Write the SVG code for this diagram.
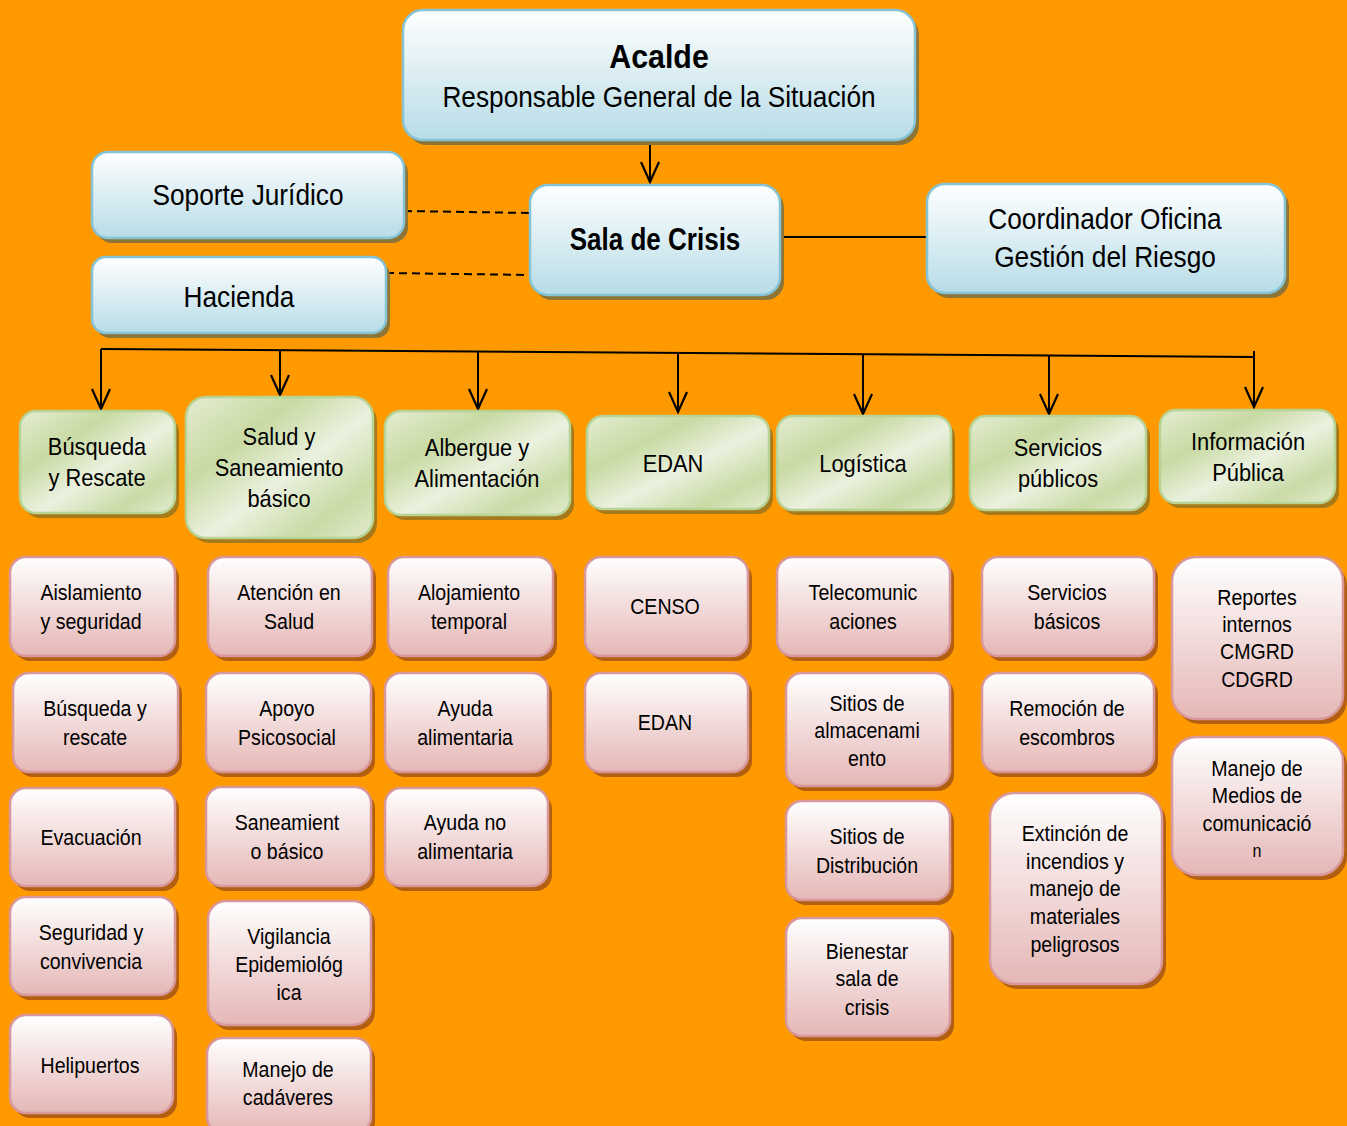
<svg xmlns="http://www.w3.org/2000/svg" width="1347" height="1126" viewBox="0 0 1347 1126">
<defs>
<linearGradient id="gb" x1="0" y1="0" x2="0" y2="1"><stop offset="0" stop-color="#FFFFFF"/><stop offset="1" stop-color="#B7DCE7"/></linearGradient>
<linearGradient id="gg" x1="0" y1="0" x2="1" y2="1"><stop offset="0" stop-color="#E4EDD2"/><stop offset="0.3" stop-color="#C8DAA3"/><stop offset="0.55" stop-color="#EBF1DF"/><stop offset="0.8" stop-color="#C9DBA6"/><stop offset="1" stop-color="#E2EBCF"/></linearGradient>
<linearGradient id="gp" x1="0" y1="0" x2="0" y2="1"><stop offset="0" stop-color="#FFFFFF"/><stop offset="1" stop-color="#E5B7B6"/></linearGradient>
<marker id="ah" markerWidth="24" markerHeight="20" refX="22" refY="10" orient="auto" markerUnits="userSpaceOnUse" viewBox="0 0 24 20">
<polyline points="2,1 22,10 2,19" fill="none" stroke="#000" stroke-width="2.2"/>
</marker>
</defs>
<style>
.b{fill:url(#gb);stroke:#86C3D5;stroke-width:2.5}
.bs{fill:#8D7538}
.g{fill:url(#gg);stroke:#B9D395;stroke-width:2.5}
.gs{fill:#A67A1B}
.p{fill:url(#gp);stroke:#D8989A;stroke-width:2.5}
.ps{fill:#B25F12}
text{font-family:"Liberation Sans","Arial",sans-serif;fill:#000;text-anchor:middle}
.t1{font-size:30px}
.tb{font-size:31px;font-weight:bold}
.tg{font-size:24px}
.tp{font-size:22px}
.c{fill:none;stroke:#000;stroke-width:2}
</style>
<rect width="1347" height="1126" fill="#FF9900"/>

<g id="connectors">
<line class="c" x1="650" y1="140" x2="650" y2="182" marker-end="url(#ah)"/>
<line class="c" x1="404" y1="211" x2="530" y2="213" stroke-dasharray="8,5"/>
<line class="c" x1="386" y1="273" x2="530" y2="275" stroke-dasharray="8,5"/>
<line class="c" x1="780" y1="237" x2="927" y2="237"/>
<line class="c" x1="101" y1="349" x2="1254" y2="357"/>
<line class="c" x1="101" y1="349" x2="101" y2="409" marker-end="url(#ah)"/>
<line class="c" x1="280" y1="350" x2="280" y2="395" marker-end="url(#ah)"/>
<line class="c" x1="478" y1="351" x2="478" y2="409" marker-end="url(#ah)"/>
<line class="c" x1="678" y1="352" x2="678" y2="412" marker-end="url(#ah)"/>
<line class="c" x1="863" y1="354" x2="863" y2="414" marker-end="url(#ah)"/>
<line class="c" x1="1049" y1="356" x2="1049" y2="414" marker-end="url(#ah)"/>
<line class="c" x1="1254" y1="351" x2="1254" y2="407" marker-end="url(#ah)"/>
</g>

<g id="n-acalde"><rect class="bs" x="407" y="15" width="512" height="130" rx="20"/><rect class="b" x="403" y="10" width="512" height="130" rx="20"/><g transform="translate(659,0) scale(0.92,1)"><text class="tb" x="0" y="68" style="font-size:33px">Acalde</text></g><g transform="translate(659,0) scale(0.875,1)"><text class="t1" x="0" y="107">Responsable General de la Situación</text></g></g>
<g id="n-soporte"><rect class="bs" x="96" y="157" width="312" height="86" rx="16"/><rect class="b" x="92" y="152" width="312" height="86" rx="16"/><g transform="translate(248,0) scale(0.875,1)"><text class="t1" x="0" y="205">Soporte Jurídico</text></g></g>
<g id="n-sala"><rect class="bs" x="534" y="190" width="250" height="110" rx="18"/><rect class="b" x="530" y="185" width="250" height="110" rx="18"/><g transform="translate(655,0) scale(0.84,1)"><text class="tb" x="0" y="250">Sala de Crisis</text></g></g>
<g id="n-hacienda"><rect class="bs" x="96" y="262" width="294" height="76" rx="14"/><rect class="b" x="92" y="257" width="294" height="76" rx="14"/><g transform="translate(239,0) scale(0.875,1)"><text class="t1" x="0" y="307">Hacienda</text></g></g>
<g id="n-coord"><rect class="bs" x="931" y="189" width="358" height="109" rx="18"/><rect class="b" x="927" y="184" width="358" height="109" rx="18"/><g transform="translate(1105,0) scale(0.875,1)"><text class="t1" x="0" y="229">Coordinador Oficina</text><text class="t1" x="0" y="267">Gestión del Riesgo</text></g></g>

<g id="n-busq"><rect class="gs" x="24" y="416" width="155" height="102" rx="16"/><rect class="g" x="20" y="411" width="155" height="102" rx="16"/><g transform="translate(97,0) scale(0.91,1)"><text class="tg" x="0" y="455">Búsqueda</text><text class="tg" x="0" y="486">y Rescate</text></g></g>
<g id="n-salud"><rect class="gs" x="190" y="402" width="187" height="141" rx="20"/><rect class="g" x="186" y="397" width="187" height="141" rx="20"/><g transform="translate(279,0) scale(0.91,1)"><text class="tg" x="0" y="445">Salud y</text><text class="tg" x="0" y="476">Saneamiento</text><text class="tg" x="0" y="507">básico</text></g></g>
<g id="n-albergue"><rect class="gs" x="389" y="416" width="185" height="104" rx="16"/><rect class="g" x="385" y="411" width="185" height="104" rx="16"/><g transform="translate(477,0) scale(0.91,1)"><text class="tg" x="0" y="456">Albergue y</text><text class="tg" x="0" y="487">Alimentación</text></g></g>
<g id="n-edan"><rect class="gs" x="591" y="421" width="182" height="93" rx="16"/><rect class="g" x="587" y="416" width="182" height="93" rx="16"/><g transform="translate(673,0) scale(0.91,1)"><text class="tg" x="0" y="472">EDAN</text></g></g>
<g id="n-logistica"><rect class="gs" x="781" y="421" width="174" height="94" rx="16"/><rect class="g" x="777" y="416" width="174" height="94" rx="16"/><g transform="translate(863,0) scale(0.91,1)"><text class="tg" x="0" y="472">Logística</text></g></g>
<g id="n-servicios"><rect class="gs" x="974" y="421" width="176" height="94" rx="16"/><rect class="g" x="970" y="416" width="176" height="94" rx="16"/><g transform="translate(1058,0) scale(0.91,1)"><text class="tg" x="0" y="456">Servicios</text><text class="tg" x="0" y="487">públicos</text></g></g>
<g id="n-info"><rect class="gs" x="1164" y="415" width="175" height="93" rx="16"/><rect class="g" x="1160" y="410" width="175" height="93" rx="16"/><g transform="translate(1248,0) scale(0.91,1)"><text class="tg" x="0" y="450">Información</text><text class="tg" x="0" y="481">Pública</text></g></g>

<g id="n-aislamiento"><rect class="ps" x="14" y="562" width="165" height="99" rx="16"/><rect class="p" x="10" y="557" width="165" height="99" rx="16"/><g transform="translate(91,0) scale(0.89,1)"><text class="tp" x="0" y="600">Aislamiento</text><text class="tp" x="0" y="629">y seguridad</text></g></g>
<g id="n-busqresc"><rect class="ps" x="17" y="678" width="165" height="99" rx="16"/><rect class="p" x="13" y="673" width="165" height="99" rx="16"/><g transform="translate(95,0) scale(0.89,1)"><text class="tp" x="0" y="716">Búsqueda y</text><text class="tp" x="0" y="745">rescate</text></g></g>
<g id="n-evacuacion"><rect class="ps" x="14" y="793" width="165" height="98" rx="16"/><rect class="p" x="10" y="788" width="165" height="98" rx="16"/><g transform="translate(91,0) scale(0.89,1)"><text class="tp" x="0" y="845">Evacuación</text></g></g>
<g id="n-seguridad"><rect class="ps" x="14" y="902" width="165" height="98" rx="16"/><rect class="p" x="10" y="897" width="165" height="98" rx="16"/><g transform="translate(91,0) scale(0.89,1)"><text class="tp" x="0" y="940">Seguridad y</text><text class="tp" x="0" y="969">convivencia</text></g></g>
<g id="n-helipuertos"><rect class="ps" x="14" y="1020" width="163" height="98" rx="16"/><rect class="p" x="10" y="1015" width="163" height="98" rx="16"/><g transform="translate(90,0) scale(0.89,1)"><text class="tp" x="0" y="1073">Helipuertos</text></g></g>

<g id="n-atencion"><rect class="ps" x="212" y="562" width="164" height="99" rx="16"/><rect class="p" x="208" y="557" width="164" height="99" rx="16"/><g transform="translate(289,0) scale(0.89,1)"><text class="tp" x="0" y="600">Atención en</text><text class="tp" x="0" y="629">Salud</text></g></g>
<g id="n-apoyo"><rect class="ps" x="210" y="678" width="165" height="99" rx="16"/><rect class="p" x="206" y="673" width="165" height="99" rx="16"/><g transform="translate(287,0) scale(0.89,1)"><text class="tp" x="0" y="716">Apoyo</text><text class="tp" x="0" y="745">Psicosocial</text></g></g>
<g id="n-saneamiento"><rect class="ps" x="210" y="792" width="165" height="99" rx="16"/><rect class="p" x="206" y="787" width="165" height="99" rx="16"/><g transform="translate(287,0) scale(0.89,1)"><text class="tp" x="0" y="830">Saneamient</text><text class="tp" x="0" y="859">o básico</text></g></g>
<g id="n-vigilancia"><rect class="ps" x="212" y="906" width="163" height="124" rx="18"/><rect class="p" x="208" y="901" width="163" height="124" rx="18"/><g transform="translate(289,0) scale(0.89,1)"><text class="tp" x="0" y="944">Vigilancia</text><text class="tp" x="0" y="972">Epidemiológ</text><text class="tp" x="0" y="1000">ica</text></g></g>
<g id="n-cadaveres"><rect class="ps" x="211" y="1043" width="164" height="95" rx="16"/><rect class="p" x="207" y="1038" width="164" height="95" rx="16"/><g transform="translate(288,0) scale(0.89,1)"><text class="tp" x="0" y="1077">Manejo de</text><text class="tp" x="0" y="1105">cadáveres</text></g></g>

<g id="n-alojamiento"><rect class="ps" x="392" y="562" width="165" height="99" rx="16"/><rect class="p" x="388" y="557" width="165" height="99" rx="16"/><g transform="translate(469,0) scale(0.89,1)"><text class="tp" x="0" y="600">Alojamiento</text><text class="tp" x="0" y="629">temporal</text></g></g>
<g id="n-ayudaalim"><rect class="ps" x="389" y="678" width="163" height="99" rx="16"/><rect class="p" x="385" y="673" width="163" height="99" rx="16"/><g transform="translate(465,0) scale(0.89,1)"><text class="tp" x="0" y="716">Ayuda</text><text class="tp" x="0" y="745">alimentaria</text></g></g>
<g id="n-ayudanoalim"><rect class="ps" x="389" y="793" width="163" height="98" rx="16"/><rect class="p" x="385" y="788" width="163" height="98" rx="16"/><g transform="translate(465,0) scale(0.89,1)"><text class="tp" x="0" y="830">Ayuda no</text><text class="tp" x="0" y="859">alimentaria</text></g></g>

<g id="n-censo"><rect class="ps" x="589" y="562" width="163" height="99" rx="16"/><rect class="p" x="585" y="557" width="163" height="99" rx="16"/><g transform="translate(665,0) scale(0.89,1)"><text class="tp" x="0" y="614">CENSO</text></g></g>
<g id="n-edan2"><rect class="ps" x="589" y="678" width="163" height="99" rx="16"/><rect class="p" x="585" y="673" width="163" height="99" rx="16"/><g transform="translate(665,0) scale(0.89,1)"><text class="tp" x="0" y="730">EDAN</text></g></g>

<g id="n-telecom"><rect class="ps" x="781" y="562" width="173" height="99" rx="16"/><rect class="p" x="777" y="557" width="173" height="99" rx="16"/><g transform="translate(863,0) scale(0.89,1)"><text class="tp" x="0" y="600">Telecomunic</text><text class="tp" x="0" y="629">aciones</text></g></g>
<g id="n-almacen"><rect class="ps" x="790" y="678" width="164" height="113" rx="16"/><rect class="p" x="786" y="673" width="164" height="113" rx="16"/><g transform="translate(867,0) scale(0.89,1)"><text class="tp" x="0" y="711">Sitios de</text><text class="tp" x="0" y="738">almacenami</text><text class="tp" x="0" y="766">ento</text></g></g>
<g id="n-distrib"><rect class="ps" x="790" y="806" width="164" height="99" rx="16"/><rect class="p" x="786" y="801" width="164" height="99" rx="16"/><g transform="translate(867,0) scale(0.89,1)"><text class="tp" x="0" y="844">Sitios de</text><text class="tp" x="0" y="873">Distribución</text></g></g>
<g id="n-bienestar"><rect class="ps" x="790" y="923" width="164" height="118" rx="16"/><rect class="p" x="786" y="918" width="164" height="118" rx="16"/><g transform="translate(867,0) scale(0.89,1)"><text class="tp" x="0" y="959">Bienestar</text><text class="tp" x="0" y="986">sala de</text><text class="tp" x="0" y="1015">crisis</text></g></g>

<g id="n-servbas"><rect class="ps" x="986" y="562" width="172" height="99" rx="16"/><rect class="p" x="982" y="557" width="172" height="99" rx="16"/><g transform="translate(1067,0) scale(0.89,1)"><text class="tp" x="0" y="600">Servicios</text><text class="tp" x="0" y="629">básicos</text></g></g>
<g id="n-remocion"><rect class="ps" x="986" y="678" width="172" height="99" rx="16"/><rect class="p" x="982" y="673" width="172" height="99" rx="16"/><g transform="translate(1067,0) scale(0.89,1)"><text class="tp" x="0" y="716">Remoción de</text><text class="tp" x="0" y="745">escombros</text></g></g>
<g id="n-extincion"><rect class="ps" x="994" y="798" width="172" height="191" rx="24"/><rect class="p" x="990" y="793" width="172" height="191" rx="24"/><g transform="translate(1075,0) scale(0.89,1)"><text class="tp" x="0" y="841">Extinción de</text><text class="tp" x="0" y="869">incendios y</text><text class="tp" x="0" y="896">manejo de</text><text class="tp" x="0" y="924">materiales</text><text class="tp" x="0" y="952">peligrosos</text></g></g>

<g id="n-reportes"><rect class="ps" x="1176" y="562" width="171" height="162" rx="24"/><rect class="p" x="1172" y="557" width="171" height="162" rx="24"/><g transform="translate(1257,0) scale(0.89,1)"><text class="tp" x="0" y="605">Reportes</text><text class="tp" x="0" y="632">internos</text><text class="tp" x="0" y="659">CMGRD</text><text class="tp" x="0" y="687">CDGRD</text></g></g>
<g id="n-medios"><rect class="ps" x="1176" y="742" width="171" height="138" rx="24"/><rect class="p" x="1172" y="737" width="171" height="138" rx="24"/><g transform="translate(1257,0) scale(0.89,1)"><text class="tp" x="0" y="776">Manejo de</text><text class="tp" x="0" y="803">Medios de</text><text class="tp" x="0" y="831">comunicació</text><text class="tp" x="0" y="857" style="font-size:18px">n</text></g></g>
</svg>
